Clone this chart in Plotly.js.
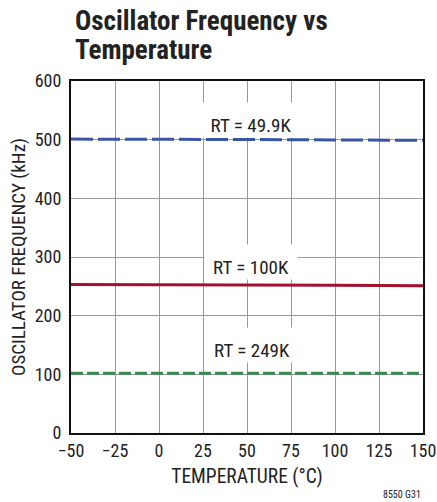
<!DOCTYPE html>
<html><head><meta charset="utf-8">
<script src="https://cdn.plot.ly/plotly-3.0.1.min.js"></script>
<style>body{margin:0;background:#fff}#c{width:437px;height:502px}</style>
</head><body><div id="c"></div>
<script>
const temperature = [-50, -25, 0, 25, 50, 75, 100, 125, 150];
const freqRT49_9K = [501, 501, 501, 500.5, 500, 500, 499.5, 499, 499];
const freqRT100K = [253, 253, 253, 252.5, 252.5, 252, 252, 251.5, 251];
const freqRT249K = [102, 102, 102, 102, 102, 102, 102, 102, 102];
const seriesLabels = ['RT = 49.9K', 'RT = 100K', 'RT = 249K'];
const labelX = [52, 52, 53];
const labelY = [502.8, 260.8, 120];
const labelBoxW = [96, 92, 92];
const xTicks = [-50, -25, 0, 25, 50, 75, 100, 125, 150];
const yTicks = [0, 100, 200, 300, 400, 500, 600];
const titleLines = ['Oscillator Frequency vs', 'Temperature'];

const F = '"Roboto Condensed", "Liberation Sans Narrow", sans-serif';
const traces = [
  {x: temperature, y: freqRT49_9K, mode: 'lines', line: {color: '#3b55a6', width: 3, dash: '22px,5px'}},
  {x: temperature, y: freqRT100K, mode: 'lines', line: {color: '#a3112f', width: 3}},
  {x: temperature, y: freqRT249K, mode: 'lines', line: {color: '#3a8a4c', width: 3, dash: '12px,4px'}}
];
const annotations = seriesLabels.map((t, i) => ({
  x: labelX[i], y: labelY[i], text: t, showarrow: false, xanchor: 'center', yanchor: 'bottom',
  width: labelBoxW[i], height: 34, valign: 'bottom', borderpad: 0,
  bgcolor: '#fff', font: {family: F, size: 19, color: '#222'}
}));
const titleY = [21, 50];
titleLines.forEach((t, i) => annotations.push({
  xref: 'paper', yref: 'paper', x: 2/352, y: (433 - titleY[i]) / 352, xanchor: 'left', yanchor: 'middle',
  text: '<b>' + t + '</b>', showarrow: false, font: {family: F, size: 27, color: '#222'}
}));
annotations.push({xref: 'paper', yref: 'paper', x: 1, y: (433 - 494) / 352, xanchor: 'right', yanchor: 'middle',
  text: '8550 G31', showarrow: false, font: {family: F, size: 10, color: '#222'}});
const layout = {
  width: 437, height: 502,
  margin: {l: 71, r: 14, t: 81, b: 69},
  paper_bgcolor: '#fff', plot_bgcolor: '#fff',
  showlegend: false,
  xaxis: {range: [-50, 150], tickvals: xTicks, ticks: '', showgrid: true, gridcolor: '#999', gridwidth: 1,
    zeroline: false, showline: true, linecolor: '#111', linewidth: 2, mirror: true, ticklabeloverflow: 'allow',
    tickfont: {family: F, size: 18, color: '#222'},
    title: {text: 'TEMPERATURE (°C)', font: {family: F, size: 19.5, color: '#222'}, standoff: 10}},
  yaxis: {range: [0, 600], tickvals: yTicks, ticks: '', showgrid: true, gridcolor: '#999', gridwidth: 1,
    zeroline: false, showline: true, linecolor: '#111', linewidth: 2, mirror: true, ticklabelstandoff: 4,
    tickfont: {family: F, size: 18, color: '#222'},
    title: {text: 'OSCILLATOR FREQUENCY (kHz)', font: {family: F, size: 19, color: '#222'}, standoff: 4}},
  annotations: annotations
};
Plotly.newPlot('c', traces, layout, {displayModeBar: false, staticPlot: true});
</script></body></html>
